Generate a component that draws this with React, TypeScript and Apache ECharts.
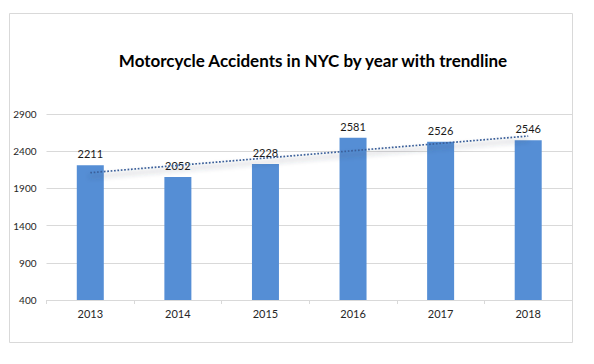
import React, { useEffect, useRef } from "react";
import * as echarts from "echarts";

const title = "Motorcycle Accidents in NYC by year with trendline";
const years = ["2013", "2014", "2015", "2016", "2017", "2018"];
const accidents = [2211, 2052, 2228, 2581, 2526, 2546];
const axisMin = 400;
const axisMax = 2900;
const axisStep = 500;

// Linear least-squares trendline computed from the bar values (as Excel does)
function linearTrend(values: number[]): number[] {
  const n = values.length;
  const xs = values.map((_, i) => i + 1);
  const mx = xs.reduce((a, b) => a + b, 0) / n;
  const my = values.reduce((a, b) => a + b, 0) / n;
  let sxy = 0;
  let sxx = 0;
  for (let i = 0; i < n; i++) {
    sxy += (xs[i] - mx) * (values[i] - my);
    sxx += (xs[i] - mx) * (xs[i] - mx);
  }
  const slope = sxy / sxx;
  const intercept = my - slope * mx;
  return xs.map((x) => intercept + slope * x);
}

const FONT = "Lato, 'Noto Sans', sans-serif";

export default function App() {
  const ref = useRef<HTMLDivElement>(null);
  useEffect(() => {
    if (!ref.current) return;
    const chart = echarts.init(ref.current, null, { renderer: "svg" });
    const trend = linearTrend(accidents);
    chart.setOption({
      animation: false,
      textStyle: { fontFamily: FONT },
      title: {
        text: title,
        left: 300,
        textAlign: "center",
        top: 39,
        textStyle: { fontFamily: FONT, fontSize: 17, fontWeight: "bold", color: "#000" },
      },
      graphic: [
        {
          type: "rect",
          shape: { x: 1.5, y: 5.5, width: 563, height: 329 },
          style: { fill: "none", stroke: "#D9D9D9", lineWidth: 1 },
          silent: true,
          z: 0,
        },
      ],
      grid: { left: 38.5, right: 22, top: 106, bottom: 56, containLabel: false },
      xAxis: {
        type: "category",
        data: years,
        axisLine: { show: true, lineStyle: { color: "#D9D9D9", width: 1 } },
        axisTick: { show: true, length: 4, lineStyle: { color: "#D9D9D9" } },
        axisLabel: { margin: 8, fontSize: 11, color: "#262626", fontFamily: FONT },
      },
      yAxis: {
        type: "value",
        min: 0,
        max: axisMax - axisMin,
        interval: axisStep,
        axisLine: { show: false },
        axisTick: { show: false },
        splitLine: { show: true, lineStyle: { color: "#D9D9D9", width: 1 } },
        axisLabel: {
          margin: 10,
          fontSize: 10,
          color: "#262626",
          fontFamily: FONT,
          formatter: (v: number) => String(v + axisMin),
        },
      },
      series: [
        {
          type: "bar",
          data: accidents.map((v) => v - axisMin),
          barWidth: 27,
          itemStyle: { color: "#558ED5" },
          label: {
            show: true,
            position: "top",
            distance: 6,
            fontSize: 11,
            color: "#1a1a1a",
            fontFamily: FONT,
            formatter: (p: any) => String(accidents[p.dataIndex]),
          },
          z: 2,
        },
        {
          type: "line",
          data: trend.map((v) => v - axisMin),
          symbol: "none",
          silent: true,
          lineStyle: {
            color: "#3B5F99",
            width: 1.7,
            type: [1.7, 1.7],
            shadowColor: "rgba(50,60,80,0.7)",
            shadowBlur: 5,
            shadowOffsetY: 4,
          },
          z: 3,
        },
      ],
    });
    return () => chart.dispose();
  }, []);
  return <div ref={ref} style={{ width: 586, height: 348 }} />;
}
